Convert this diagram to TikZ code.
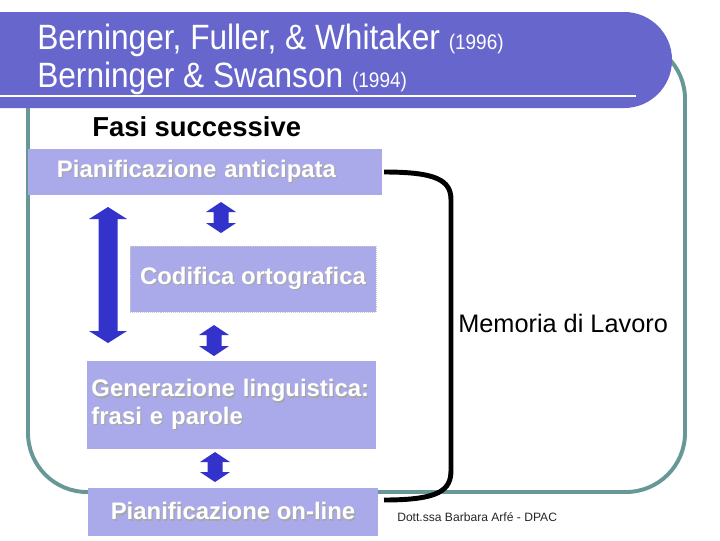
\documentclass[tikz,border=0pt]{standalone}
\usepackage{fontspec}
\setmainfont{Liberation Sans}
\newfontfamily\titlefont[FakeStretch=0.9]{Liberation Sans}
\usepackage{xcolor}
\usepackage{tikz}

\definecolor{bannerblue}{RGB}{102,102,204}
\definecolor{boxfill}{RGB}{170,170,234}
\definecolor{arrowblue}{RGB}{51,51,204}
\definecolor{frameteal}{RGB}{104,152,150}
\newcommand{\shtxt}[1]{\mbox{\rlap{\kern0.9pt\raisebox{-0.9pt}{\textcolor{black!35}{#1}}}\textcolor{white}{#1}}}

\begin{document}
\begin{tikzpicture}[x=0.025cm, y=-0.025cm,
    phase/.style={rectangle, fill=boxfill, inner sep=0pt, align=center, font=\fontsize{17}{19.5}\selectfont\bfseries},
    title/.style={anchor=base west, text=white, inner sep=0pt, font=\titlefont\fontsize{25}{30}\selectfont},
    frame/.style={draw=frameteal, line width=2.8pt, rounded corners=42pt},
    blockarrow/.style={fill=arrowblue},
    bracket/.style={draw=black, line width=3.5pt}
]
    \useasboundingbox (0,0) rectangle (720,540);
    \clip (0,0) rectangle (720,540);

    % Frame and banner
    \draw[frame] (28,40) rectangle (685,492);
    \fill[bannerblue, rounded corners=34pt] (-100,12) -- (672,12) -- (672,108) -- (-100,108) -- cycle;
    \draw[white, line width=2.1pt] (0,96) -- (636,96);
    \node[title] (autori1) at (37,49) {Berninger, Fuller, \& Whitaker {\fontsize{15}{17}\selectfont (1996)}};
    \node[title] (autori2) at (37,87) {Berninger \& Swanson {\fontsize{15}{17}\selectfont (1994)}};

    % Nodes
    \node[anchor=base west, inner sep=0pt, font=\fontsize{19.5}{23}\selectfont\bfseries] (fasi) at (92,136) {Fasi successive};
    \node[phase, minimum width=8.85cm, minimum height=1.15cm, text width=7.4cm, align=left] (antic) at (205,172) {\shtxt{Pianificazione anticipata}};
    \node[phase, minimum width=6.15cm, minimum height=1.65cm, draw=black!20, densely dotted] (codif) at (253,279) {\shtxt{Codifica ortografica}};
    \node[phase, minimum width=7.225cm, minimum height=2.2cm, text width=7.0cm, align=left] (gener) at (231.5,405) {\shtxt{Generazione linguistica:}\\\shtxt{frasi e parole}};
    \node[phase, minimum width=7.25cm, minimum height=1.2cm] (online) at (233,512) {\shtxt{Pianificazione on-line}};
    \node[anchor=west, inner sep=0pt, font=\fontsize{18}{21}\selectfont] (memoria) at (458,323) {Memoria di Lavoro};
    \node[anchor=west, inner sep=0pt, font=\fontsize{8.6}{10}\selectfont, text=black!85] (autore) at (397,517) {Dott.ssa Barbara Arfé - DPAC};

    % Block arrows
    \foreach \ax/\ay/\by/\sw/\hw/\hl in {221/202/233/7.5/15/10, 214/325/356/7.5/15/10, 215/452/482/7.5/15/10, 108/207/343/9.5/19/12}
        \fill[blockarrow] (\ax,\ay) -- ({\ax+\hw},{\ay+\hl}) -- ({\ax+\sw},{\ay+\hl}) -- ({\ax+\sw},{\by-\hl}) -- ({\ax+\hw},{\by-\hl}) -- (\ax,\by)
            -- ({\ax-\hw},{\by-\hl}) -- ({\ax-\sw},{\by-\hl}) -- ({\ax-\sw},{\ay+\hl}) -- ({\ax-\hw},{\ay+\hl}) -- cycle;

    % Bracket
    \coordinate (wmtop) at (384,172);
    \coordinate (wmbot) at (384,500);
    \draw[bracket] (wmtop) .. controls (436,172) and (451,180) .. (451,200) -- (451,470) .. controls (451,490) and (440,500) .. (wmbot);
\end{tikzpicture}
\end{document}
